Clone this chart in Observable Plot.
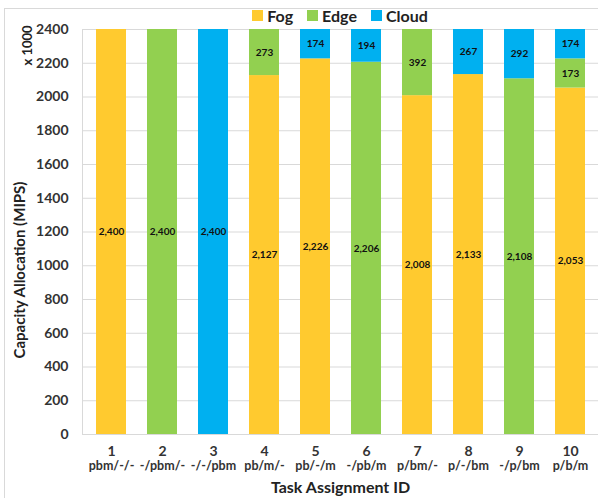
<!DOCTYPE html>
<html>
<head>
<meta charset="utf-8">
<script src="https://cdn.jsdelivr.net/npm/d3@7"></script>
<script src="https://cdn.jsdelivr.net/npm/@observablehq/plot@0.6"></script>
<style>
  html, body { margin: 0; padding: 0; background: #fff; }
  #wrap { position: relative; width: 598px; height: 498px; overflow: hidden; font-family: Lato, "Open Sans", sans-serif; }
  #frame { position: absolute; left: 4px; top: 8px; width: 600px; height: 500px; border: 1px solid #d9d9d9; box-sizing: border-box; pointer-events: none; }
  #legend { position: absolute; top: 6px; left: 0; width: 598px; display: flex; justify-content: center; padding-left: 82px; box-sizing: border-box; font-weight: bold; font-size: 16px; color: #222; }
  #legend span.item { display: inline-flex; align-items: center; margin: 0 7px; }
  #legend span.sw { display: inline-block; width: 11px; height: 11px; margin-right: 4px; }
  #chart { position: absolute; left: 0; top: 0; }
</style>
</head>
<body>
<div id="wrap">
  <div id="frame"></div>
  <div id="chart"></div>
  <div id="legend"></div>
</div>
<script>
const ids = ["1","2","3","4","5","6","7","8","9","10"];
const assignments = ["pbm/-/-","-/pbm/-","-/-/pbm","pb/m/-","pb/-/m","-/pb/m","p/bm/-","p/-/bm","-/p/bm","p/b/m"];
const series = ["Fog","Edge","Cloud"];
const colors = ["#FFCA2F","#92D050","#00B0F0"];
const fog   = [2400, 0, 0, 2127, 2226, 0, 2008, 2133, 0, 2053];
const edge  = [0, 2400, 0, 273, 0, 2206, 392, 0, 2108, 173];
const cloud = [0, 0, 2400, 0, 174, 194, 0, 267, 292, 174];
const yTicks = [0,200,400,600,800,1000,1200,1400,1600,1800,2000,2200,2400];

const values = {Fog: fog, Edge: edge, Cloud: cloud};
const data = [];
for (const s of series) {
  ids.forEach((id, i) => {
    const v = values[s][i];
    if (v > 0) data.push({id, series: s, value: v});
  });
}
const fmt = d3.format(",");
const font = "Lato, 'Open Sans', sans-serif";

const plot = Plot.plot({
  width: 598,
  height: 498,
  marginLeft: 82,
  marginRight: 0,
  marginTop: 29,
  marginBottom: 64,
  style: {fontFamily: font, background: "transparent", overflow: "visible"},
  x: {domain: ids, paddingInner: 0.42, paddingOuter: 0.21, label: null},
  y: {domain: [0, 2400], label: null},
  color: {domain: series, range: colors},
  marks: [
    Plot.gridY(yTicks, {stroke: "#d9d9d9", strokeOpacity: 1}),
    Plot.frame({anchor: "left", stroke: "#d9d9d9"}),
    Plot.barY(data, Plot.stackY({x: "id", y: "value", fill: "series", z: "series", order: series})),
    Plot.text(data, Plot.stackY({x: "id", y: "value", z: "series", order: series, text: d => fmt(d.value), fontSize: 10, fontWeight: "bold", fill: "#111"})),
    Plot.axisY({ticks: yTicks, tickSize: 0, tickPadding: 14, fontSize: 14, fontWeight: "bold", fill: "#333", tickFormat: d => String(d), label: null}),
    Plot.axisX({tickSize: 0, tickPadding: 12, fontSize: 14, fontWeight: "bold", fill: "#333", label: null}),
    Plot.axisX({tickSize: 0, tickPadding: 27, fontSize: 12.5, fontWeight: "bold", fill: "#333", tickFormat: d => assignments[ids.indexOf(d)], label: null}),
    Plot.text(["Task Assignment ID"], {frameAnchor: "bottom", dy: 53, fontSize: 16, fontWeight: "bold", fill: "#222", lineAnchor: "middle"}),
    Plot.text(["Capacity Allocation (MIPS)"], {frameAnchor: "left", textAnchor: "middle", dx: -62, dy: 38, rotate: -90, fontSize: 15, fontWeight: "bold", fill: "#222"}),
    Plot.text(["x 1000"], {frameAnchor: "top-left", textAnchor: "middle", dx: -60, dy: 16, rotate: -90, fontSize: 13, fontWeight: "bold", fill: "#222"})
  ]
});
document.getElementById("chart").appendChild(plot);

const leg = document.getElementById("legend");
series.forEach((s, i) => {
  const it = document.createElement("span");
  it.className = "item";
  const sw = document.createElement("span");
  sw.className = "sw";
  sw.style.background = colors[i];
  it.appendChild(sw);
  it.appendChild(document.createTextNode(s));
  leg.appendChild(it);
});
</script>
</body>
</html>
